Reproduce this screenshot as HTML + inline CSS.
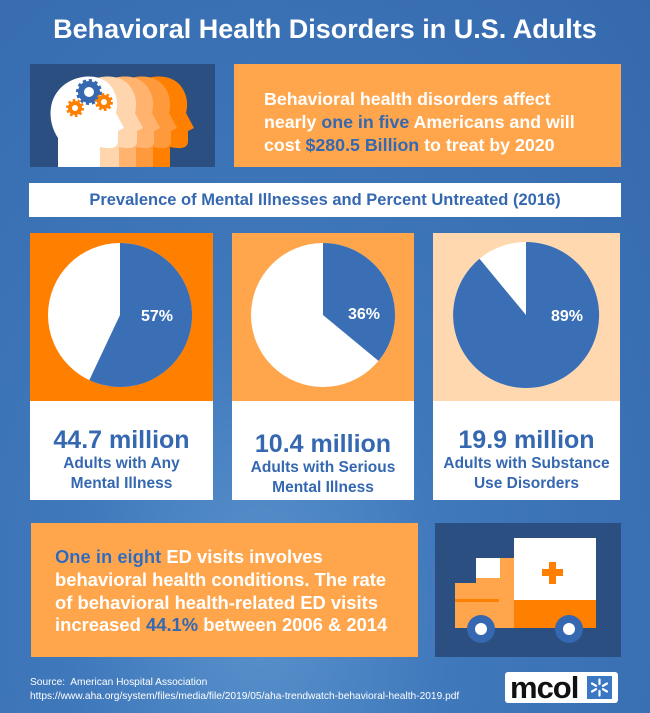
<!DOCTYPE html>
<html><head><meta charset="utf-8"><style>
body{margin:0;width:650px;height:713px;overflow:hidden;font-family:"Liberation Sans",sans-serif}
#bg{position:absolute;left:0;top:0;width:650px;height:713px;background:radial-gradient(ellipse at 40% 85%,#5a92cc 0%,#3f78bb 35%,#3569ad 100%)}
.a{position:absolute}
.t{color:#fff;font-weight:bold}
.b{color:#3568b0}
.card{position:absolute;top:401px;height:99px;background:#fff;text-align:center;color:#3568b0;font-weight:bold}
.card .big{font-size:25px;margin-top:25px;line-height:28px}
.card .sm{font-size:15.5px;line-height:20px}
</style></head><body>
<div id="bg"></div>
<div class="a t" style="left:0;width:650px;top:14px;text-align:center;font-size:27px">Behavioral Health Disorders in U.S. Adults</div>
<svg class="a" style="left:30px;top:64px" width="185" height="103" viewBox="30 64 185 103">
<rect x="30" y="64" width="185" height="103" fill="#2a4f80"/>
<defs><path id="h" d="M10 100 L10 65 C0 50 0 30 10 18 C22 2 50 -2 62 12 C70 22 70 32 68 40 L76 55 L70 58 L70 68 C70 76 62 76 52 74 L52 100 Z"/></defs>
<use href="#h" x="118" y="73" fill="#ff8000"/>
<use href="#h" x="101" y="73" fill="#ff9a3c"/>
<use href="#h" x="84" y="73" fill="#ffb36e"/>
<use href="#h" x="67" y="73" fill="#ffd5ae"/>
<use href="#h" x="48" y="73" fill="#fff"/>
<circle cx="89" cy="92" r="8" fill="none" stroke="#3568b0" stroke-width="6"/>
<circle cx="89" cy="92" r="11" fill="none" stroke="#3568b0" stroke-width="4" stroke-dasharray="3 2.7"/>
<circle cx="104" cy="102" r="5" fill="none" stroke="#ff8000" stroke-width="4"/>
<circle cx="104" cy="102" r="7.5" fill="none" stroke="#ff8000" stroke-width="3" stroke-dasharray="2.5 2.2"/>
<circle cx="75" cy="108" r="5" fill="none" stroke="#ff8000" stroke-width="4"/>
<circle cx="75" cy="108" r="7.5" fill="none" stroke="#ff8000" stroke-width="3" stroke-dasharray="2.5 2.2"/>
</svg>
<div class="a t" style="left:234px;top:64px;width:387px;height:103px;background:#ffa64d"></div>
<div class="a t" style="left:264px;top:88px;font-size:17.8px;line-height:23px">Behavioral health disorders affect<br>nearly <span class="b">one in five</span> Americans and will<br>cost <span class="b">$280.5 Billion</span> to treat by 2020</div>
<div class="a" style="left:29px;top:183px;width:592px;height:34px;background:#fff;color:#3568b0;font-weight:bold;font-size:16.5px;line-height:34px;text-align:center">Prevalence of Mental Illnesses and Percent Untreated (2016)</div>
<svg class="a" style="left:0;top:0" width="650" height="713">
<rect x="30" y="233" width="183" height="168" fill="#ff8000"/>
<rect x="232" y="233" width="182" height="168" fill="#ffa64d"/>
<rect x="433" y="233" width="187" height="168" fill="#ffd8b0"/>
<circle cx="120" cy="315" r="72" fill="#fff"/>
<path d="M120 315 L120 243 A72 72 0 1 1 89.3 380.1 Z" fill="#3a6fb5"/>
<circle cx="323" cy="315" r="72" fill="#fff"/>
<path d="M323 315 L323 243 A72 72 0 0 1 378.5 360.9 Z" fill="#3a6fb5"/>
<circle cx="526" cy="315" r="73" fill="#fff"/>
<path d="M526 315 L526 242 A73 73 0 1 1 479.5 258.8 Z" fill="#3a6fb5"/>
<text x="157" y="321" fill="#fff" font-weight="bold" font-size="16" text-anchor="middle">57%</text>
<text x="364" y="319" fill="#fff" font-weight="bold" font-size="16" text-anchor="middle">36%</text>
<text x="567" y="321" fill="#fff" font-weight="bold" font-size="16" text-anchor="middle">89%</text>
</svg>
<div class="card" style="left:30px;width:183px"><div class="big">44.7 million</div><div class="sm">Adults with Any<br>Mental Illness</div></div>
<div class="card" style="left:232px;width:182px"><div class="big" style="margin-top:29px">10.4 million</div><div class="sm">Adults with Serious<br>Mental Illness</div></div>
<div class="card" style="left:433px;width:187px"><div class="big">19.9 million</div><div class="sm">Adults with Substance<br>Use Disorders</div></div>
<div class="a" style="left:31px;top:523px;width:387px;height:134px;background:#ffa64d"></div>
<div class="a t" style="left:55px;top:546px;font-size:18.4px;line-height:22.8px">One in eight ED visits involves<br>behavioral health conditions. The rate<br>of behavioral health-related ED visits<br>increased <span class="b">44.1%</span> between 2006 &amp; 2014</div>
<div class="a t" style="left:55px;top:546px;font-size:18.4px;line-height:22.8px;color:#3568b0">One in eight</div>
<svg class="a" style="left:0;top:0" width="650" height="713">
<rect x="435" y="523" width="186" height="134" fill="#2a4f80"/>
<rect x="514" y="538" width="82" height="63" fill="#fff"/>
<rect x="514" y="600" width="82" height="28" fill="#ff8000"/>
<rect x="455" y="583" width="59" height="45" fill="#ffa64d"/>
<rect x="476" y="558" width="38" height="25" fill="#ffa64d"/>
<rect x="476" y="558" width="24" height="20" fill="#fff"/>
<rect x="455" y="599" width="44" height="3" fill="#ff8000"/>
<rect x="549" y="562" width="7" height="22" fill="#ff8000"/>
<rect x="542" y="569" width="21" height="7" fill="#ff8000"/>
<circle cx="481" cy="629" r="14" fill="#3568b0"/><circle cx="481" cy="629" r="6" fill="#fff"/>
<circle cx="569" cy="629" r="14" fill="#3568b0"/><circle cx="569" cy="629" r="6" fill="#fff"/>
</svg>
<div class="a" style="left:30px;top:676px;color:#fff;font-size:10.2px;line-height:14px">Source:&nbsp; American Hospital Association<br>https://www.aha.org/system/files/media/file/2019/05/aha-trendwatch-behavioral-health-2019.pdf</div>
<div class="a" style="left:505px;top:672px;width:113px;height:31px;background:#fff;border-radius:3px"></div>
<div class="a" style="left:510px;top:670px;font-size:31px;font-weight:bold;color:#111;letter-spacing:-1px">mcol</div>
<svg class="a" style="left:587px;top:676px" width="25" height="23">
<rect width="25" height="23" fill="#3a78c4"/>
<g stroke="#fff" stroke-width="2.2" stroke-linecap="round">
<line x1="12.5" y1="3.5" x2="12.5" y2="8"/><line x1="12.5" y1="15" x2="12.5" y2="19.5"/>
<line x1="5" y1="7.5" x2="9" y2="9.8"/><line x1="16" y1="13.2" x2="20" y2="15.5"/>
<line x1="5" y1="15.5" x2="9" y2="13.2"/><line x1="16" y1="9.8" x2="20" y2="7.5"/>
</g></svg>
</body></html>
